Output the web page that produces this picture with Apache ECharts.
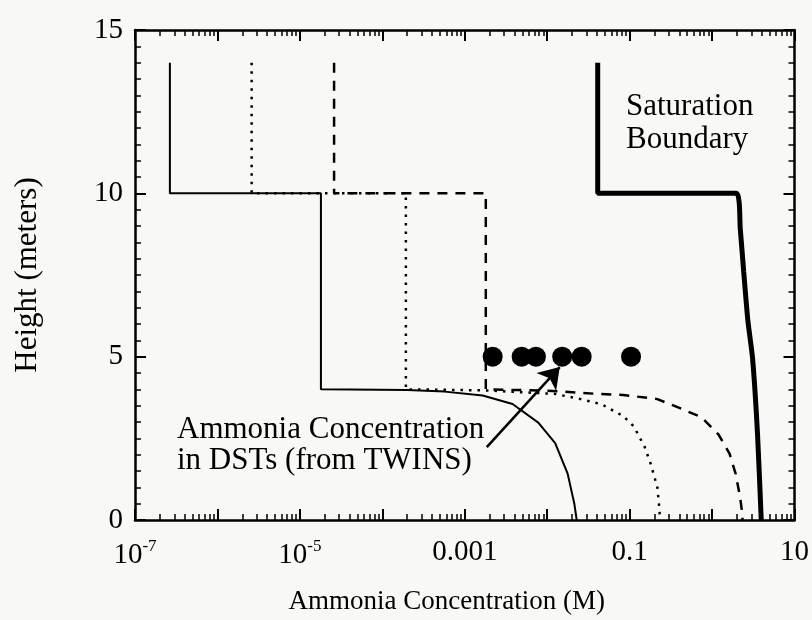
<!DOCTYPE html>
<html>
<head>
<meta charset="utf-8">
<script src="https://cdn.jsdelivr.net/npm/echarts@6/dist/echarts.min.js"></script>
<style>
html,body{margin:0;padding:0;background:#f8f8f6;}
#c{width:812px;height:620px;}
</style>
</head>
<body>
<div id="c"></div>
<script>
// ---- data ----
const solidCase = [[2.65e-7,14],[2.65e-7,10],[1.8e-5,10],[1.8e-5,4],[2e-4,3.98],[5.7e-4,3.93],[1.65e-3,3.81],[3.8e-3,3.55],[7.8e-3,2.98],[0.0125,2.35],[0.0177,1.42],[0.0214,0.48],[0.0228,0]];
const dottedCase = [[2.6e-6,14],[2.6e-6,10],[1.93e-4,10],[1.93e-4,4],[1.7e-3,3.97],[0.0125,3.86],[0.0255,3.70],[0.046,3.54],[0.0835,3.18],[0.112,2.87],[0.152,2.24],[0.18,1.72],[0.217,1.0],[0.231,0.27],[0.232,0]];
const dashedCase = [[2.6e-5,14],[2.6e-5,10],[1.8e-3,10],[1.8e-3,4],[9.9e-3,3.96],[0.041,3.86],[0.0835,3.83],[0.217,3.70],[0.44,3.39],[0.75,3.14],[1.2,2.61],[1.63,2.03],[1.93,1.42],[2.19,0.69],[2.33,0.18],[2.34,0]];
const saturation = [[0.041,14],[0.041,10],[1.98,10],[2.2,8.9],[2.42,7.6],[2.72,6.1],[3.10,4.95],[3.56,2.63],[3.95,0]];
const twinsX = [2.18e-3, 4.9e-3, 7.3e-3, 0.0152, 0.0262, 0.104];
const twinsY = [5, 5, 5, 5, 5, 5];
const arrowFrom = [1.85e-3, 2.23];
const arrowTo = [0.0142, 4.68];
const xTickExps = [-7, -5, -3, -1, 1];
const xTickLabels = ['{b|10}{s|-7}', '{b|10}{s|-5}', '0.001', '0.1', '10'];
const yTicks = [0, 5, 10, 15];

const FONT = '"Liberation Serif","Times New Roman",serif';
const chart = echarts.init(document.getElementById('c'), null, {renderer: 'canvas'});

const tickStyle = {inside: true, length: 11, lineStyle: {color: '#000', width: 2}};
const minorStyle = {show: true, splitNumber: 9, length: 6, lineStyle: {color: '#000', width: 1.5}};
const axisLineStyle = {show: true, onZero: false, lineStyle: {color: '#000', width: 2.5}};

function xFmt(v) {
  const e = Math.round(Math.log10(v));
  const i = xTickExps.indexOf(e);
  return i >= 0 ? xTickLabels[i] : '';
}

const option = {
  backgroundColor: '#f8f8f6',
  animation: false,
  grid: {left: 135, right: 17, top: 30, bottom: 93, containLabel: false},
  xAxis: [{
    type: 'log', logBase: 10, min: 1e-7, max: 10, position: 'bottom',
    name: 'Ammonia Concentration (M)', nameLocation: 'middle', nameGap: 68,
    nameTextStyle: {fontFamily: FONT, fontSize: 27, color: '#000', padding: [0, 36, 0, 0]},
    axisLine: axisLineStyle, axisTick: tickStyle, minorTick: minorStyle,
    splitLine: {show: false}, minorSplitLine: {show: false},
    axisLabel: {
      formatter: xFmt, margin: 18, color: '#000', fontFamily: FONT, fontSize: 29,
      rich: {
        b: {fontFamily: FONT, fontSize: 29, color: '#000', verticalAlign: 'bottom', lineHeight: 32},
        s: {fontFamily: FONT, fontSize: 17, color: '#000', verticalAlign: 'top', lineHeight: 32, padding: [0, 0, 12, 0]}
      }
    }
  }, {
    type: 'log', logBase: 10, min: 1e-7, max: 10, position: 'top',
    axisLine: axisLineStyle, axisTick: tickStyle, minorTick: minorStyle,
    axisLabel: {show: false}, splitLine: {show: false}
  }],
  yAxis: [{
    type: 'value', min: 0, max: 15, interval: 5, position: 'left',
    name: 'Height (meters)', nameLocation: 'middle', nameGap: 92,
    nameTextStyle: {fontFamily: FONT, fontSize: 31, color: '#000'},
    axisLine: axisLineStyle, axisTick: tickStyle,
    minorTick: {show: true, splitNumber: 10, length: 6, lineStyle: {color: '#000', width: 1.5}},
    splitLine: {show: false},
    axisLabel: {margin: 12, color: '#000', fontFamily: FONT, fontSize: 29,
      formatter: v => yTicks.indexOf(v) >= 0 ? String(v) : ''}
  }, {
    type: 'value', min: 0, max: 15, interval: 5, position: 'right',
    axisLine: axisLineStyle, axisTick: tickStyle,
    minorTick: {show: true, splitNumber: 10, length: 6, lineStyle: {color: '#000', width: 1.5}},
    axisLabel: {show: false}, splitLine: {show: false}
  }],
  series: [{
    type: 'line', data: solidCase, showSymbol: false, symbol: 'none',
    lineStyle: {color: '#000', width: 2, type: 'solid'}
  }, {
    type: 'line', data: dottedCase, showSymbol: false, symbol: 'none',
    lineStyle: {color: '#000', width: 2.5, type: [2.5, 6]}
  }, {
    type: 'line', data: dashedCase, showSymbol: false, symbol: 'none',
    lineStyle: {color: '#000', width: 2.5, type: [10, 8]}
  }, {
    type: 'line', data: saturation, showSymbol: false, symbol: 'none', smooth: 0.2,
    lineStyle: {color: '#000', width: 5, type: 'solid'}
  }, {
    type: 'scatter', data: twinsX.map((x, i) => [x, twinsY[i]]),
    symbol: 'circle', symbolSize: 20, itemStyle: {color: '#000', opacity: 1},
    markLine: {
      silent: true, symbol: ['none', 'arrow'], symbolSize: 20,
      label: {show: false},
      lineStyle: {color: '#000', width: 2.5, type: 'solid', opacity: 1},
      data: [[{coord: arrowFrom}, {coord: arrowTo}]]
    }
  }],
  graphic: [{
    type: 'text', left: 177, top: 414,
    style: {text: 'Ammonia Concentration\nin DSTs (from TWINS)', font: '31px ' + FONT, fill: '#000', lineHeight: 31}
  }, {
    type: 'text', left: 626, top: 90,
    style: {text: 'Saturation\nBoundary', font: '31px ' + FONT, fill: '#000', lineHeight: 33}
  }]
};
chart.setOption(option);
</script>
</body>
</html>
